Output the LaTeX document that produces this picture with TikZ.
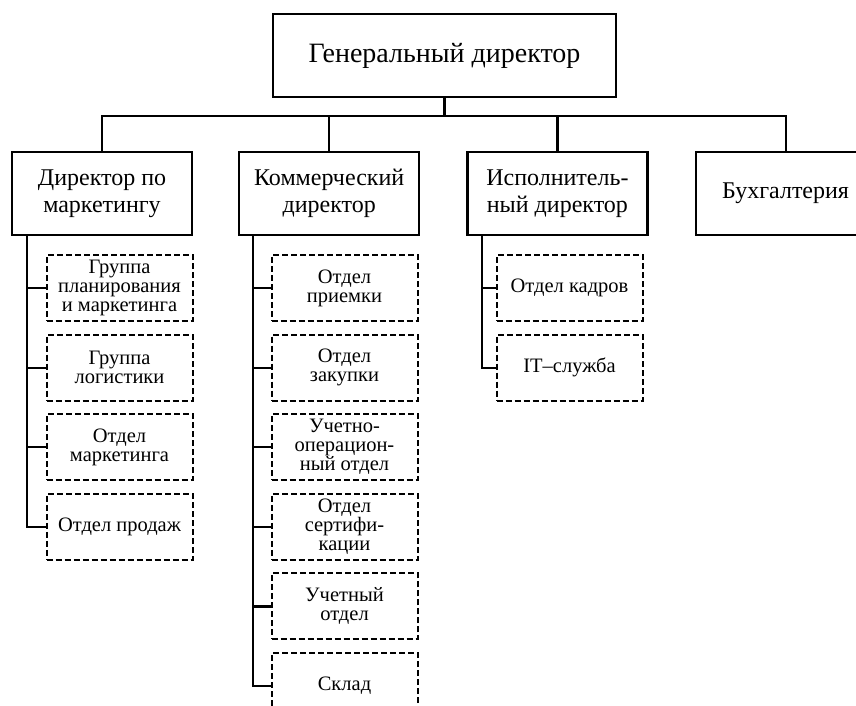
\documentclass[tikz,border=0pt]{standalone}
\usepackage{fontspec}
\setmainfont{Liberation Serif}
\usetikzlibrary{positioning}

\tikzset{
  chief/.style={draw, line width=2.2pt, minimum width=343pt, minimum height=83pt, font=\fontsize{28}{30}\selectfont},
  boss/.style={draw, line width=2.2pt, minimum width=180pt, minimum height=83pt, align=center, inner sep=2pt, font=\fontsize{24}{27}\selectfont},
  dept/.style={draw, dash pattern=on 6pt off 3pt, line width=2pt, minimum width=146pt, minimum height=66pt, align=center, inner sep=1pt, font=\fontsize{20.5}{19}\selectfont},
  link/.style={line width=2.2pt}
}

\begin{document}
\begin{tikzpicture}[x=1pt, y=-1pt]
% frame of the page
\useasboundingbox (0,0) rectangle (856,706);
\clip (0,0) rectangle (856,706);

% points def
\coordinate (bus) at (0,116);

% head
\node[chief] (gd) at (444.5,55.5) {Генеральный директор};

% second level
\node[boss] (dm) at (102,193.5) {Директор по\\маркетингу};
\node[boss, right=45pt of dm] (kd) {Коммерческий\\директор};
\node[boss, right=46pt of kd] (id) {Исполнитель-\\ный директор};
\node[boss, right=46pt of id] (bh) {Бухгалтерия};

% departments under the marketing director
\node[dept] (m1) at (119.5,288) {Группа\\планирования\\и маркетинга};
\node[dept, below=11.6pt of m1] (m2) {Группа\\логистики};
\node[dept, below=11.6pt of m2] (m3) {Отдел\\маркетинга};
\node[dept, below=11.6pt of m3] (m4) {Отдел продаж};

% departments under the commercial director
\node[dept] (k1) at (344.5,288) {Отдел\\приемки};
\node[dept, below=11.6pt of k1] (k2) {Отдел\\закупки};
\node[dept, below=11.6pt of k2] (k3) {Учетно-\\операцион-\\ный отдел};
\node[dept, below=11.6pt of k3] (k4) {Отдел\\сертифи-\\кации};
\node[dept, below=11.6pt of k4] (k5) {Учетный\\отдел};
\node[dept, below=11.6pt of k5] (k6) {Склад};

% departments under the executive director
\node[dept] (i1) at (569.5,288) {Отдел кадров};
\node[dept, below=11.6pt of i1] (i2) {IT–служба};

% bus
\draw[link] (gd.south) -- (gd.south |- bus);
\draw[link] (dm.north) -- (dm.north |- bus) -- (bh.north |- bus) -- (bh.north);
\draw[link] (kd.north) -- (kd.north |- bus);
\draw[link] (id.north) -- (id.north |- bus);

% trunks
\coordinate (t1) at ([xshift=16pt]dm.south west);
\coordinate (t2) at ([xshift=15pt]kd.south west);
\coordinate (t3) at ([xshift=16pt]id.south west);
\draw[link] (t1) |- (m4.west);
\draw[link] (t2) |- (k6.west);
\draw[link] (t3) |- (i2.west);

% stubs
\draw[link] (m1.west) -- (m1.west -| t1);
\draw[link] (m2.west) -- (m2.west -| t1);
\draw[link] (m3.west) -- (m3.west -| t1);
\draw[link] (k1.west) -- (k1.west -| t2);
\draw[link] (k2.west) -- (k2.west -| t2);
\draw[link] (k3.west) -- (k3.west -| t2);
\draw[link] (k4.west) -- (k4.west -| t2);
\draw[link] (k5.west) -- (k5.west -| t2);
\draw[link] (i1.west) -- (i1.west -| t3);
\end{tikzpicture}
\end{document}
